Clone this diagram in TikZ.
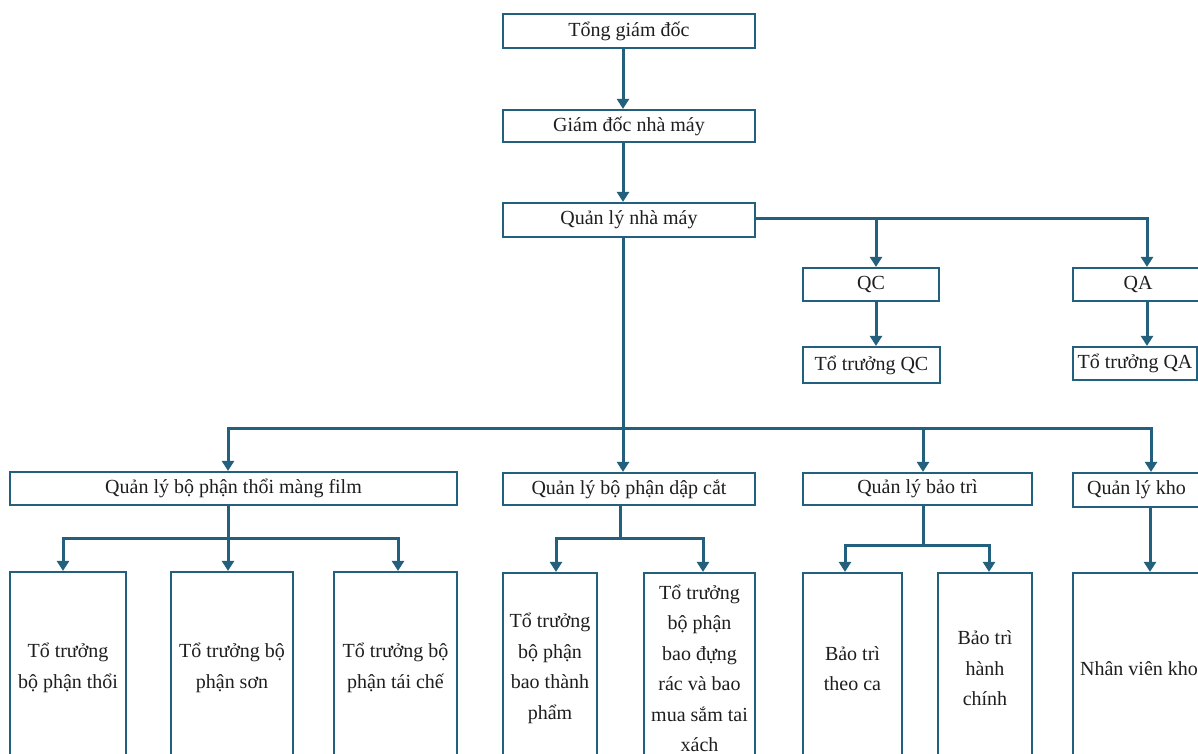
\documentclass[tikz,border=0pt]{standalone}
\usepackage{fontspec}
\setmainfont{Liberation Serif}
\usetikzlibrary{arrows.meta}
\definecolor{linkc}{RGB}{35,96,125}
\definecolor{txt}{RGB}{30,30,30}

\begin{document}
\begin{tikzpicture}[x=1pt,y=-1pt,
  box/.style={draw=linkc, line width=2.2pt, fill=white, inner sep=0pt,
    text=txt, font=\fontsize{20}{30.5}\selectfont, align=center},
  link/.style={draw=linkc, line width=3pt},
  arr/.style={link, -{Triangle[length=10pt,width=12pt]}},
]
\useasboundingbox (0,0) rectangle (1198,753);
\fill[white] (0,0) rectangle (1198,753);
\clip (0,0) rectangle (1198,753);

% management chain
\node[box, minimum width=252pt, minimum height=34pt] (top) at (629,31) {Tổng giám đốc};
\node[box, minimum width=252pt, minimum height=32pt] (gd)  at (629,126) {Giám đốc nhà máy};
\node[box, minimum width=252pt, minimum height=34pt] (ql)  at (629,220) {Quản lý nhà máy};

% quality branch
\node[box, minimum width=136pt, minimum height=33pt] (qc)   at (871,284.5) {QC};
\node[box, minimum width=137pt, minimum height=36pt] (ttqc) at (871.5,365) {Tổ trưởng QC};
\node[box, minimum width=130pt, minimum height=33pt] (qa)   at (1138,284.5) {QA};
\node[box, minimum width=124pt, minimum height=33pt] (ttqa) at (1135,363.5) {Tổ trưởng QA};

% department managers
\node[box, minimum width=447pt, minimum height=33pt] (film) at (233.5,488.5) {Quản lý bộ phận thổi màng film};
\node[box, minimum width=252pt, minimum height=32pt] (dap)  at (629,489) {Quản lý bộ phận dập cắt};
\node[box, minimum width=229pt, minimum height=32pt] (bt)   at (917.5,489) {Quản lý bảo trì};
\node[box, minimum width=127pt, minimum height=34pt] (kho)  at (1136.5,490) {Quản lý kho};

% team leaders and staff
\node[box, minimum width=116pt, minimum height=192pt] (A) at (68,668) {Tổ trưởng\\bộ phận thổi};
\node[box, minimum width=122pt, minimum height=192pt] (B) at (232,668) {Tổ trưởng bộ\\phận sơn};
\node[box, minimum width=123pt, minimum height=192pt] (C) at (395.5,668) {Tổ trưởng bộ\\phận tái chế};
\node[box, minimum width=94pt,  minimum height=191pt] (D) at (550,668.5) {Tổ trưởng\\bộ phận\\bao thành\\phẩm};
\node[box, minimum width=111pt, minimum height=191pt] (E) at (699.5,668.5) {Tổ trưởng\\bộ phận\\bao đựng\\rác và bao\\mua sắm tai\\xách};
\node[box, minimum width=99pt,  minimum height=191pt] (F) at (852.5,668.5) {Bảo trì\\theo ca};
\node[box, minimum width=94pt,  minimum height=191pt] (G) at (985,668.5) {Bảo trì\\hành\\chính};
\node[box, minimum width=132pt, minimum height=191pt] (H) at (1139,668.5) {Nhân viên kho};

% junction points
\coordinate (tk) at (623,428);
\coordinate (qcx) at (876,218);
\coordinate (qax) at (1147,218);
\coordinate (b1) at (228,428);
\coordinate (b3) at (923,428);
\coordinate (b4) at (1151,428);
\coordinate (fj) at (228,538);
\coordinate (fa) at (63,538);
\coordinate (fc) at (398,538);
\coordinate (dj) at (620,538);
\coordinate (dd) at (556,538);
\coordinate (de) at (703,538);
\coordinate (tj) at (923,545);
\coordinate (tf) at (845,545);
\coordinate (tg) at (989,545);
\coordinate (kx) at (1150,0);

% connectors
\draw[arr] (top.south -| tk) -- (gd.north -| tk);
\draw[arr] (gd.south -| tk) -- (ql.north -| tk);

\draw[arr] (ql.east |- qax) -- (qax) -- (qa.north -| qax);
\draw[arr] (qcx) -- (qc.north -| qcx);
\draw[arr] (qc.south -| qcx) -- (ttqc.north -| qcx);
\draw[arr] (qa.south -| qax) -- (ttqa.north -| qax);

\draw[arr] (ql.south -| tk) -- (tk) -- (dap.north -| tk);
\draw[arr] (tk) -- (b1) -- (film.north -| b1);
\draw[arr] (tk) -- (b4) -- (kho.north -| b4);
\draw[arr] (b3) -- (bt.north -| b3);

\draw[arr] (film.south -| fj) -- (B.north -| fj);
\draw[arr] (fj) -- (fa) -- (A.north -| fa);
\draw[arr] (fj) -- (fc) -- (C.north -| fc);

\draw[link] (dap.south -| dj) -- (dj);
\draw[arr] (dj) -- (dd) -- (D.north -| dd);
\draw[arr] (dj) -- (de) -- (E.north -| de);

\draw[link] (bt.south -| tj) -- (tj);
\draw[arr] (tj) -- (tf) -- (F.north -| tf);
\draw[arr] (tj) -- (tg) -- (G.north -| tg);

\draw[arr] (kho.south -| kx) -- (H.north -| kx);
\end{tikzpicture}
\end{document}
